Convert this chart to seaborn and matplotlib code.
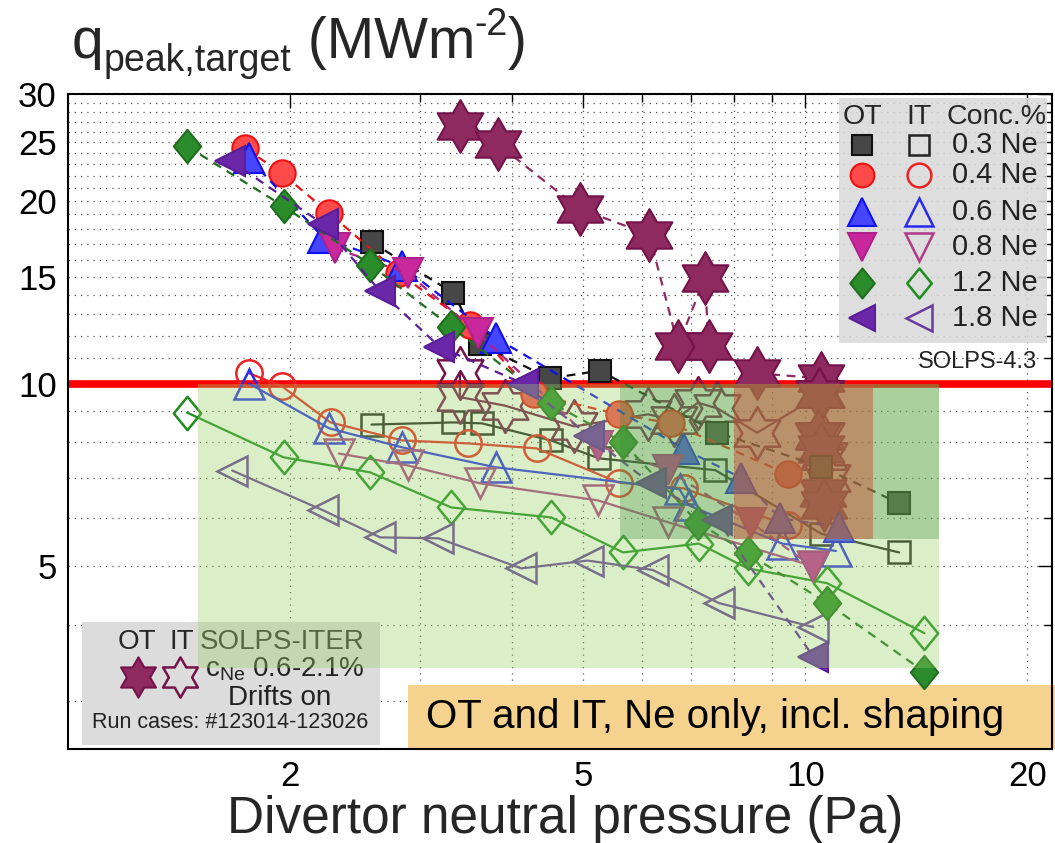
import numpy as np
import matplotlib
matplotlib.use("Agg")
import matplotlib.pyplot as plt
from matplotlib.path import Path
from matplotlib.patches import Rectangle
from matplotlib.ticker import FixedLocator, FixedFormatter, NullFormatter
import seaborn as sns

sns.set_theme(style="white")
plt.rcParams["font.family"] = ["Liberation Sans", "DejaVu Sans"]
plt.rcParams["mathtext.fontset"] = "custom"
plt.rcParams["mathtext.rm"] = "Liberation Sans"
plt.rcParams["mathtext.it"] = "Liberation Sans"

# ---------------- data: SOLPS-4.3, outer target (OT) ----------------
ot_03_x = [2.58, 3.33, 3.62, 4.50, 5.26, 7.60, 10.5, 13.4]
ot_03_y = [17.1, 14.1, 11.6, 10.2, 10.5, 8.3, 7.3, 6.35]
ot_04_x = [1.74, 1.95, 2.26, 2.81, 3.51, 4.29, 5.58, 6.57, 9.46]
ot_04_y = [24.4, 22.2, 19.1, 15.2, 12.5, 9.6, 8.9, 8.6, 7.1]
ot_06_x = [1.76, 2.22, 2.84, 3.80, 6.84, 8.17, 9.25, 11.1]
ot_06_y = [23.5, 17.4, 15.6, 11.9, 7.8, 7.0, 6.0, 5.8]
ot_08_x = [2.30, 2.89, 3.60, 5.23, 6.51, 8.44, 10.25]
ot_08_y = [16.7, 15.2, 12.1, 7.9, 7.2, 5.9, 4.98]
ot_12_x = [1.45, 1.96, 2.57, 3.31, 4.52, 5.66, 7.15, 8.35, 10.7, 14.5]
ot_12_y = [24.6, 19.6, 15.7, 12.4, 9.3, 8.0, 5.9, 5.25, 4.35, 3.35]
ot_18_x = [1.66, 2.22, 2.65, 3.19, 4.14, 5.09, 6.17, 7.60, 10.25]
ot_18_y = [23.3, 18.3, 14.2, 11.5, 10.0, 8.2, 6.85, 5.95, 3.55]

# ---------------- data: SOLPS-4.3, inner target (IT) ----------------
it_03_x = [2.58, 3.33, 3.64, 4.52, 5.25, 7.55, 10.5, 13.4]
it_03_y = [8.56, 8.63, 8.6, 8.06, 7.53, 7.2, 5.66, 5.27]
it_04_x = [1.76, 1.95, 2.27, 2.84, 3.49, 4.32, 5.58, 6.84, 9.46]
it_04_y = [10.4, 9.9, 8.63, 8.06, 7.97, 7.82, 6.87, 6.72, 5.84]
it_06_x = [1.76, 2.26, 2.84, 3.80, 6.75, 6.95, 9.3, 11.0]
it_06_y = [10.0, 8.44, 7.85, 7.28, 6.7, 6.3, 5.45, 5.3]
it_08_x = [2.33, 2.89, 3.62, 5.23, 6.51, 10.25]
it_08_y = [7.67, 7.33, 6.85, 6.42, 5.91, 5.0]
it_12_x = [1.45, 1.96, 2.57, 3.31, 4.52, 5.66, 7.17, 8.35, 10.7, 14.5]
it_12_y = [8.96, 7.56, 7.14, 6.25, 6.02, 5.27, 5.45, 4.96, 4.69, 3.88]
it_18_x = [1.67, 2.22, 2.65, 3.18, 4.12, 5.07, 6.21, 7.63, 10.25]
it_18_y = [7.19, 6.18, 5.58, 5.56, 4.96, 5.11, 4.93, 4.35, 3.97]

# ---------------- data: SOLPS-ITER with drifts ----------------
iter_ot_x = [3.40, 3.83, 4.94, 6.14, 6.72, 7.30, 7.40, 8.59, 10.5, 10.45, 10.4, 10.5, 10.55, 10.6]
iter_ot_y = [26.6, 24.8, 19.4, 17.6, 11.55, 14.9, 11.55, 10.4, 10.2, 9.6, 8.2, 7.8, 6.6, 6.3]
iter_it_x = [3.40, 3.40, 3.91, 4.86, 6.12, 6.64, 7.15, 7.60, 8.60, 10.5, 10.5, 10.6, 10.7]
iter_it_y = [10.4, 9.5, 9.2, 8.5, 8.9, 8.7, 9.3, 9.1, 8.3, 9.6, 8.2, 7.6, 7.0]

conc_labels = ["0.3 Ne", "0.4 Ne", "0.6 Ne", "0.8 Ne", "1.2 Ne", "1.8 Ne"]
x_ticks = [2, 5, 10, 20]
x_tick_labels = ["2", "5", "10", "20"]
y_ticks = [5, 10, 15, 20, 25, 30]
y_tick_labels = ["5", "10", "15", "20", "25", "30"]
q_limit = 10

# ---------------- marker shapes ----------------
ang = np.deg2rad(90 + 30 * np.arange(12))
rad = np.where(np.arange(12) % 2 == 0, 1.0, 1 / np.sqrt(3))
hv = np.column_stack([rad * np.cos(ang), rad * np.sin(ang)])
HEXAGRAM = Path(np.vstack([hv, hv[0]]), [Path.MOVETO] + [Path.LINETO] * 11 + [Path.CLOSEPOLY])
DIAMOND = Path([(0, 1), (0.82, 0), (0, -1), (-0.82, 0), (0, 1)],
               [Path.MOVETO, Path.LINETO, Path.LINETO, Path.LINETO, Path.CLOSEPOLY])

# style per concentration: marker, size, OT face, OT edge, IT colour
styles = [
    ("s", 16, "#474747", "#111111", "#222222"),
    ("o", 19, "#ff4a4a", "#ee1111", "#ee2222"),
    ("^", 22, "#4646ff", "#1010ee", "#2a2aee"),
    ("v", 22, "#c8289c", "#b0208a", "#b03a88"),
    (DIAMOND, 24, "#2a8c2a", "#1e6e1e", "#1e8c1e"),
    ("<", 21, "#6a28a8", "#5a1c98", "#6a3a9e"),
]
ot_sets = [(ot_03_x, ot_03_y), (ot_04_x, ot_04_y), (ot_06_x, ot_06_y),
           (ot_08_x, ot_08_y), (ot_12_x, ot_12_y), (ot_18_x, ot_18_y)]
it_sets = [(it_03_x, it_03_y), (it_04_x, it_04_y), (it_06_x, it_06_y),
           (it_08_x, it_08_y), (it_12_x, it_12_y), (it_18_x, it_18_y)]
STAR_FACE, STAR_EDGE = "#8e2a60", "#74124a"

W, H = 1055, 843
fig = plt.figure(figsize=(W / 100, H / 100), dpi=100)
ax = fig.add_axes([68 / W, 1 - 749 / H, 984 / W, 655 / H])
ax.set_xscale("log")
ax.set_yscale("log")
ax.set_xlim(1.0, 21.6)
ax.set_ylim(2.5, 30)


def series(x, y, marker, ms, face, edge, line, ls, mew, z):
    sns.lineplot(x=x, y=y, ax=ax, sort=False, estimator=None, errorbar=None,
                 legend=False, color=line, linestyle=ls, linewidth=1.6,
                 marker=marker, markersize=ms, markerfacecolor=face,
                 markeredgecolor=edge, markeredgewidth=mew, zorder=z)


dash = (0, (4, 3))
# inner target: open markers, solid lines
for (x, y), (mk, ms, fc, ec, ic) in zip(it_sets, styles):
    series(x, y, mk, ms, "none", ic, ic, "-", 1.8, 3)
series(iter_it_x, iter_it_y, HEXAGRAM, 38, "none", STAR_EDGE, STAR_EDGE, "-", 1.8, 3)
# outer target: filled markers, dashed lines
for (x, y), (mk, ms, fc, ec, ic) in zip(ot_sets, styles):
    series(x, y, mk, ms, fc, ec, ec, dash, 1.5, 3.2)
series(iter_ot_x, iter_ot_y, HEXAGRAM, 38, STAR_FACE, STAR_EDGE, STAR_FACE, dash, 1.5, 3.1)

# target heat-flux limit
ax.axhline(q_limit, color="red", lw=5.5, zorder=2.6)

# operating windows
ax.add_patch(Rectangle((1.5, 3.4), 15.2 - 1.5, 10 - 3.4, facecolor=(150/255, 210/255, 100/255),
                       alpha=0.35, lw=0, zorder=5))
ax.add_patch(Rectangle((5.6, 5.55), 15.2 - 5.6, 10 - 5.55, facecolor=(60/255, 140/255, 60/255),
                       alpha=0.3, lw=0, zorder=5.1))
ax.add_patch(Rectangle((8.0, 5.55), 12.35 - 8.0, 10 - 5.55, facecolor=(200/255, 85/255, 60/255),
                       alpha=0.5, lw=0, zorder=5.2))

# axes styling
ax.xaxis.set_major_locator(FixedLocator(x_ticks))
ax.xaxis.set_major_formatter(FixedFormatter(x_tick_labels))
ax.xaxis.set_minor_locator(FixedLocator([3, 4, 6, 7, 8, 9]))
ax.xaxis.set_minor_formatter(NullFormatter())
ax.yaxis.set_major_locator(FixedLocator(y_ticks))
ax.yaxis.set_major_formatter(FixedFormatter(y_tick_labels))
ax.yaxis.set_minor_locator(FixedLocator([3, 4, 6, 7, 8, 9] + [v for v in range(11, 30) if v % 5]))
ax.yaxis.set_minor_formatter(NullFormatter())
ax.tick_params(which="both", direction="in", top=True, right=True, colors="black",
               labelsize=25, width=1.0)
ax.tick_params(which="major", length=10, pad=8)
ax.tick_params(which="minor", length=6)
ax.grid(which="both", color="#555555", linestyle=(0, (1, 4)), linewidth=0.9, zorder=0)
ax.set_axisbelow(True)
for sp in ax.spines.values():
    sp.set_color("black")
    sp.set_linewidth(1.5)
    sp.set_zorder(8)

# concentration key (top right)
ax.add_patch(Rectangle((0.7835, 0.62), 0.2115, 0.374, transform=ax.transAxes,
                       facecolor="#d9d9d9", alpha=0.85, lw=0, zorder=6))
key_y = [0.922, 0.876, 0.820, 0.766, 0.711, 0.658]
ax.text(0.807, 0.965, "OT", transform=ax.transAxes, ha="center", va="center", fontsize=20.5, zorder=7)
ax.text(0.865, 0.965, "IT", transform=ax.transAxes, ha="center", va="center", fontsize=20.5, zorder=7)
ax.text(0.944, 0.965, "Conc.%", transform=ax.transAxes, ha="center", va="center", fontsize=20.5, zorder=7)
for ky, lab, (mk, ms, fc, ec, ic) in zip(key_y, conc_labels, styles):
    ax.plot([0.807], [ky], transform=ax.transAxes, marker=mk, ms=ms * 0.9, mfc=fc, mec=ec,
            mew=1.5, ls="none", zorder=7, clip_on=False)
    ax.plot([0.865], [ky], transform=ax.transAxes, marker=mk, ms=ms * 0.9, mfc="none", mec=ic,
            mew=1.8, ls="none", zorder=7, clip_on=False)
    ax.text(0.942, ky, lab, transform=ax.transAxes, ha="center", va="center", fontsize=21,
            color="#222222", zorder=7)
ax.text(0.924, 0.591, "SOLPS-4.3", transform=ax.transAxes, ha="center", va="center",
        fontsize=17, color="#222222", zorder=7)

# SOLPS-ITER key (bottom left)
ax.add_patch(Rectangle((0.0142, 0.006), 0.303, 0.188, transform=ax.transAxes,
                       facecolor="#dcdcdc", lw=0, zorder=4))
ax.text(0.070, 0.163, "OT", transform=ax.transAxes, ha="center", va="center", fontsize=20, zorder=4.5)
ax.text(0.116, 0.163, "IT", transform=ax.transAxes, ha="center", va="center", fontsize=20, zorder=4.5)
ax.text(0.2175, 0.163, "SOLPS-ITER", transform=ax.transAxes, ha="center", va="center",
        fontsize=20, color="#333333", zorder=4.5)
ax.plot([0.071], [0.110], transform=ax.transAxes, marker=HEXAGRAM, ms=29, mfc=STAR_FACE,
        mec=STAR_EDGE, mew=1.5, ls="none", zorder=4.5)
ax.plot([0.114], [0.110], transform=ax.transAxes, marker=HEXAGRAM, ms=29, mfc="none",
        mec=STAR_EDGE, mew=1.8, ls="none", zorder=4.5)
ax.text(0.2205, 0.122, r"c$_{\mathregular{Ne}}$ 0.6-2.1%", transform=ax.transAxes, ha="center",
        va="center", fontsize=20, color="#222222", zorder=4.5)
ax.text(0.2155, 0.078, "Drifts on", transform=ax.transAxes, ha="center", va="center",
        fontsize=20, color="#222222", zorder=4.5)
ax.text(0.1646, 0.040, "Run cases: #123014-123026", transform=ax.transAxes, ha="center",
        va="center", fontsize=15.5, color="#222222", zorder=4.5)

# scope banner
ax.add_patch(Rectangle((0.3455, 0.0), 0.66, 0.0977, transform=ax.transAxes,
                       facecolor="#f5d28e", lw=0, zorder=2, clip_on=False))
ax.text(0.6575, 0.049, "OT and IT, Ne only, incl. shaping", transform=ax.transAxes,
        ha="center", va="center", fontsize=29, color="black", zorder=7)

ax.set_xlabel("")
ax.set_ylabel("")

# y-axis title built from pieces: q, subscript, unit with superscript
renderer = fig.canvas.get_renderer()
pieces = [("q", 41, 0), ("peak,target", 27, -13), (" (MWm", 41, 0), ("-2", 27, 23), (")", 41, 0)]
x_px, base_px = 72, H - 58
for txt, size, dy in pieces:
    t = fig.text(x_px / W, (base_px + dy) / H, txt, ha="left", va="baseline", fontsize=size)
    x_px = t.get_window_extent(renderer).x1

fig.text(565 / W, 1 - 833 / H, "Divertor neutral pressure (Pa)",
         ha="center", va="baseline", fontsize=37)

fig.savefig("out.png", dpi=100, facecolor="white")
